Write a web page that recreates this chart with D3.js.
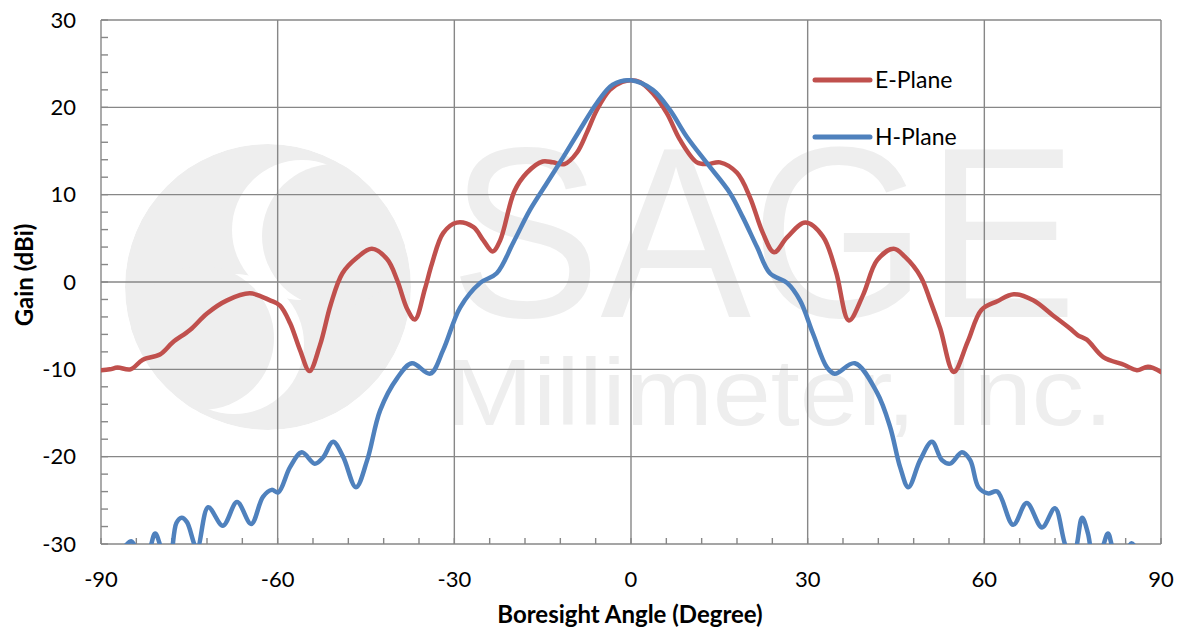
<!DOCTYPE html>
<html>
<head>
<meta charset="utf-8">
<script src="https://cdn.jsdelivr.net/npm/d3@7"></script>
<style>
  body { margin: 0; background: #fff; }
  svg { display: block; }
</style>
</head>
<body>
<svg width="1179" height="629"></svg>
<script>

// E-Plane
var eAngle = [-90, -88.5, -87.2, -85, -82.9, -80, -77.8, -74.9, -72, -68.6, -64.7, -61.3, -59.6, -57.9, -56.2,
    -54.6, -52.8, -51, -49, -46.5, -44, -41.4, -39.7, -38, -36.7, -35, -33.8, -31.9, -29.6, -26.8, -25.1,
    -23.5, -22.2, -19.8, -17.7, -15, -13.3, -11.3, -9.2, -7.5, -5.8, -3.6, -1.5, 0, 1.5, 3.7, 6.1, 8.3,
    11.2, 13, 15.1, 18, 20.2, 22.4, 24.3, 26.5, 29.6, 32.6, 34.8, 37, 39.4, 41.8, 44.6, 46.5, 49.2, 50.8,
    52.5, 54.8, 57.2, 59.5, 62.2, 65, 68.3, 71.6, 74.5, 75.9, 77.4, 80.2, 83.8, 85.9, 87.8, 90];
var eGain = [-10.1, -10, -9.8, -10, -8.9, -8.3, -6.9, -5.5, -3.6, -2.1, -1.3, -2.1, -2.7, -4.7, -7.8,
    -10.2, -7.2, -2.6, 1.0, 2.8, 3.8, 2.6, 0.2, -3.1, -4.3, -0.8, 2.1, 5.6, 6.8, 6.3, 4.8,
    3.5, 4.8, 10.4, 12.5, 13.8, 13.7, 13.5, 14.8, 17.1, 19.7, 22, 22.9, 23.1, 22.9, 21.6, 19.3, 16.3,
    13.7, 13.5, 13.7, 12.5, 9.7, 5.6, 3.4, 5.1, 6.8, 5.2, 1.2, -4.4, -1.5, 2.5, 3.8, 2.9, 0.6, -2.1,
    -5.3, -10.3, -6.8, -3.2, -2.2, -1.4, -2.1, -3.8, -5.3, -6.1, -6.6, -8.6, -9.5, -10.1, -9.7, -10.3];

// H-Plane (dips below -30 are clipped, as in the original)
var hAngle = [-90, -88, -86, -84.8, -83.3, -82, -80.8, -79.5, -78.4, -77.2, -76.3, -75.4, -73.7, -71.8,
    -69.3, -66.9, -64.5, -62.5, -61, -59.9, -57.9, -55.9, -53.7, -52.3, -50.6, -48.9, -46.7, -44.8,
    -42.6, -39.7, -37.2, -34.1, -31.9, -29, -25.6, -22.8, -20, -17.2, -14.3, -11.5, -8.7, -5.8, -3.1,
    0, 3.7, 6.6, 9.5, 12.9, 16.8, 19, 21.4, 23.6, 26.5, 28.7, 30.9, 33.3, 34.6, 38, 41.8, 44, 45.7,
    47.1, 49.1, 51.1, 52.8, 54.2, 56.2, 57.6, 59, 60.6, 62.2, 64.9, 67.2, 69.8, 72, 74, 75.2, 76.6,
    77.6, 78.6, 80, 81, 82.2, 84, 85, 86.2, 88, 90];
var hGain = [-34, -32, -30.3, -29.7, -31.5, -31, -28.8, -31, -32, -27.6, -27, -27.5, -30.5, -25.8,
    -27.9, -25.2, -27.7, -24.6, -23.8, -24.1, -21.2, -19.5, -20.8, -20.1, -18.3, -20, -23.5, -20.4,
    -14.7, -11, -9.3, -10.5, -7.8, -2.9, -0.1, 1, 4.5, 8.2, 11.3, 14.3, 17.4, 20.5, 22.6,
    23.1, 22, 19.7, 16.6, 13.6, 10.2, 7.4, 4, 1, -0.1, -2.1, -5.9, -9.8, -10.5, -9.3, -12.7, -16.6, -21.2,
    -23.5, -20.4, -18.3, -20.4, -20.8, -19.5, -20.4, -23.5, -24.2, -24, -27.8, -25.3, -28.1, -25.9, -30.5, -31, -27,
    -28.8, -32, -30.5, -28.8, -31, -31, -29.9, -31, -33, -34];

var seriesNames = ["E-Plane", "H-Plane"];
var seriesColors = ["#C0504D", "#4F81BD"];

var xTicks = [-90, -60, -30, 0, 30, 60, 90];
var yTicks = [-30, -20, -10, 0, 10, 20, 30];

var svg = d3.select("svg"),
    margin = {top: 20, right: 18, bottom: 85, left: 101},
    width = +svg.attr("width") - margin.left - margin.right,
    height = +svg.attr("height") - margin.top - margin.bottom;

var font = "Lato, 'Open Sans', sans-serif";

var x = d3.scaleLinear().domain([-90, 90]).range([0, width]);
var y = d3.scaleLinear().domain([-30, 30]).range([height, 0]);

// faint company watermark, drawn first so everything sits on top of it
var wm = svg.append("g").attr("fill", "#eeeeee");
svg.append("clipPath").attr("id", "logoClip")
  .append("circle").attr("cx", 268).attr("cy", 287).attr("r", 143);
var logo = wm.append("g").attr("clip-path", "url(#logoClip)");
logo.append("circle").attr("cx", 268).attr("cy", 287).attr("r", 143);
logo.append("circle").attr("cx", 302).attr("cy", 230).attr("r", 70).attr("fill", "#fff");
logo.append("circle").attr("cx", 234).attr("cy", 344).attr("r", 70).attr("fill", "#fff");
logo.append("circle").attr("cx", 334).attr("cy", 236).attr("r", 72);
logo.append("circle").attr("cx", 202).attr("cy", 338).attr("r", 72);
wm.append("text")
    .attr("x", 450).attr("y", 317)
    .attr("font-family", "'Liberation Sans', Arial, sans-serif")
    .attr("font-size", 243)
    .attr("textLength", 627).attr("lengthAdjust", "spacingAndGlyphs")
    .text("SAGE");
wm.append("text")
    .attr("x", 446).attr("y", 425)
    .attr("font-family", "'Liberation Sans', Arial, sans-serif")
    .attr("font-size", 95)
    .attr("textLength", 667).attr("lengthAdjust", "spacingAndGlyphs")
    .text("Millimeter, Inc.");

var g = svg.append("g").attr("transform", "translate(" + margin.left + "," + margin.top + ")");

// grid
var gridColor = "#878787";
g.append("g").selectAll("line").data(xTicks).enter().append("line")
    .attr("x1", function (d) { return x(d); }).attr("x2", function (d) { return x(d); })
    .attr("y1", 0).attr("y2", height)
    .attr("stroke", gridColor).attr("stroke-width", 1.4);
g.append("g").selectAll("line").data(yTicks).enter().append("line")
    .attr("x1", 0).attr("x2", width)
    .attr("y1", function (d) { return y(d); }).attr("y2", function (d) { return y(d); })
    .attr("stroke", gridColor).attr("stroke-width", 1.4);

// minor ticks, pointing inward
g.append("g").selectAll("line").data(d3.range(-90, 91, 6)).enter().append("line")
    .attr("x1", function (d) { return x(d); }).attr("x2", function (d) { return x(d); })
    .attr("y1", height).attr("y2", height - 6)
    .attr("stroke", gridColor).attr("stroke-width", 1.4);
g.append("g").selectAll("line").data(d3.range(-30, 31, 2)).enter().append("line")
    .attr("x1", 0).attr("x2", 7)
    .attr("y1", function (d) { return y(d); }).attr("y2", function (d) { return y(d); })
    .attr("stroke", gridColor).attr("stroke-width", 1.4);

// tick labels
g.append("g").selectAll("text").data(yTicks).enter().append("text")
    .attr("x", -25).attr("y", function (d) { return y(d); })
    .attr("dy", "0.35em")
    .attr("text-anchor", "end")
    .attr("font-family", font).attr("font-size", 22).attr("fill", "#000")
    .text(function (d) { return d; });
g.append("g").selectAll("text").data(xTicks).enter().append("text")
    .attr("x", function (d) { return x(d); }).attr("y", height + 43)
    .attr("text-anchor", "middle")
    .attr("font-family", font).attr("font-size", 22).attr("fill", "#000")
    .text(function (d) { return d; });

// axis titles
svg.append("text")
    .attr("x", 630).attr("y", 623)
    .attr("text-anchor", "middle")
    .attr("font-family", font).attr("font-size", 24).attr("font-weight", "bold")
    .text("Boresight Angle (Degree)");
svg.append("text")
    .attr("transform", "translate(33,275) rotate(-90)")
    .attr("text-anchor", "middle")
    .attr("font-family", font).attr("font-size", 24).attr("font-weight", "bold")
    .text("Gain (dBi)");

// curves
g.append("clipPath").attr("id", "plotClip")
  .append("rect").attr("x", 0).attr("y", 0).attr("width", width).attr("height", height);

var line = d3.line()
    .x(function (d) { return x(d[0]); })
    .y(function (d) { return y(d[1]); })
    .curve(d3.curveCatmullRom.alpha(0.5));

var series = [d3.zip(eAngle, eGain), d3.zip(hAngle, hGain)];

g.append("g").attr("clip-path", "url(#plotClip)")
  .selectAll("path").data(series).enter().append("path")
    .attr("d", line)
    .attr("fill", "none")
    .attr("stroke", function (d, i) { return seriesColors[i]; })
    .attr("stroke-width", 4.5)
    .attr("stroke-linejoin", "round")
    .attr("stroke-linecap", "round");

// legend
var legend = svg.append("g").selectAll("g").data(seriesNames).enter().append("g")
    .attr("transform", function (d, i) { return "translate(815," + (80 + i * 57) + ")"; });
legend.append("line")
    .attr("x1", 0).attr("x2", 55)
    .attr("stroke", function (d, i) { return seriesColors[i]; })
    .attr("stroke-width", 5).attr("stroke-linecap", "round");
legend.append("text")
    .attr("x", 60).attr("dy", "0.35em")
    .attr("font-family", font).attr("font-size", 23).attr("fill", "#000")
    .text(function (d) { return d; });
</script>
</body>
</html>
